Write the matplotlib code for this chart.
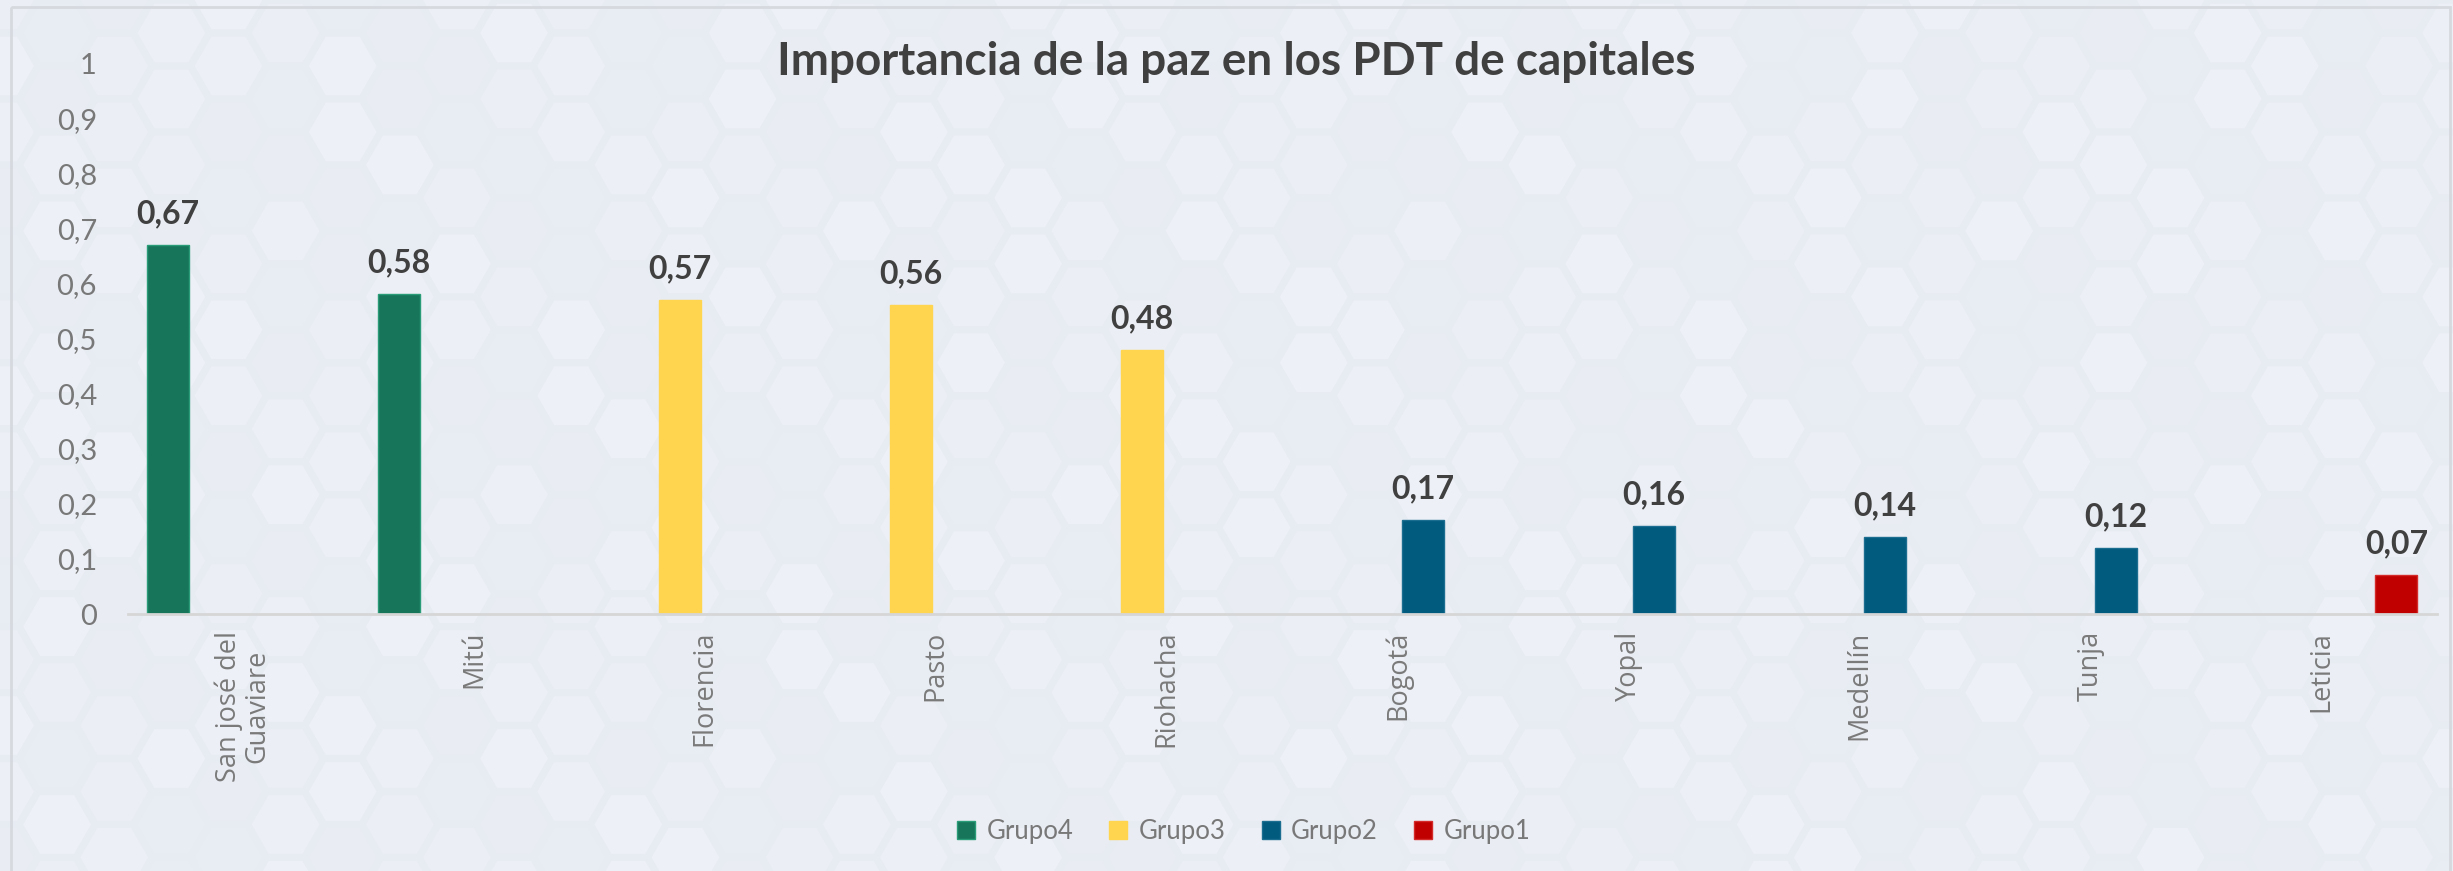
import numpy as np
import matplotlib
matplotlib.use("Agg")
import matplotlib.pyplot as plt
from matplotlib.patches import RegularPolygon, Rectangle

cities = ["San josé del\nGuaviare", "Mitú", "Florencia", "Pasto", "Riohacha",
          "Bogotá", "Yopal", "Medellín", "Tunja", "Leticia"]
nan = np.nan
grupo4 = [0.67, 0.58, nan, nan, nan, nan, nan, nan, nan, nan]
grupo3 = [nan, nan, 0.57, 0.56, 0.48, nan, nan, nan, nan, nan]
grupo2 = [nan, nan, nan, nan, nan, 0.17, 0.16, 0.14, 0.12, nan]
grupo1 = [nan, nan, nan, nan, nan, nan, nan, nan, nan, 0.07]
series_names = ["Grupo4", "Grupo3", "Grupo2", "Grupo1"]
colors = ["#17765a", "#ffd54f", "#005b7f", "#c00000"]
edges = ["#2a9c78", "#ffd54f", "#1b6e8f", "#d42a2a"]
yticks = [0, 0.1, 0.2, 0.3, 0.4, 0.5, 0.6, 0.7, 0.8, 0.9, 1]

FONT = ["Lato", "DejaVu Sans"]
CAT_FONT = ["Open Sans", "DejaVu Sans"]

W, H = 2453, 871
fig = plt.figure(figsize=(W / 100, H / 100), dpi=100)
fig.patch.set_facecolor("#e7ebf2")

# decorative hexagon background (subtle)
bg = fig.add_axes([0, 0, 1, 1])
bg.set_xlim(0, W)
bg.set_ylim(H, 0)
bg.axis("off")
r = 34
dx = 1.5 * r * 1.12
dy = np.sqrt(3) * r * 1.12
shades = ["#ebeef4", "#e9edf3", "#edf0f6", "#e8ecf3", "#eceff5"]
for i in range(int(W / dx) + 2):
    for j in range(int(H / dy) + 2):
        cx = i * dx
        cy = j * dy + (dy / 2 if i % 2 else 0)
        shade = shades[(i * 3 + j * 7 + (i * j) % 4) % 5]
        bg.add_patch(RegularPolygon((cx, cy), 6, radius=r, orientation=np.pi / 6,
                                    facecolor=shade, edgecolor="none"))
bg.add_patch(Rectangle((11, 7), W - 14, H - 6, fill=False, edgecolor="#d6d9de", lw=2))

ax = fig.add_axes([127.5 / W, 257 / H, (2437 - 127.5) / W, (614 - 63) / H])
ax.patch.set_alpha(0)

x = np.arange(len(cities))
step = 0.216
width = 0.182
for k, (name, vals) in enumerate(zip(series_names, [grupo4, grupo3, grupo2, grupo1])):
    pos = x + (k - 1.5) * step
    ax.bar(pos, vals, width, color=colors[k], edgecolor=edges[k], linewidth=1, label=name)
    for p, v in zip(pos, vals):
        if not np.isnan(v):
            ax.annotate(f"{v:.2f}".replace(".", ","), (p, v), xytext=(0, 12),
                        textcoords="offset points", ha="center", va="bottom",
                        fontsize=23, fontweight="bold", color="#404040", family=FONT)

ax.set_xlim(-0.5, len(cities) - 0.5)
ax.set_ylim(0, 1)
ax.set_yticks(yticks)
ax.set_yticklabels([f"{t:g}".replace(".", ",") for t in yticks],
                   family=FONT, fontsize=21, color="#787878")
ax.set_xticks(x)
ax.set_xticklabels(cities, rotation=90, va="top", ha="center", fontsize=19.5,
                   color="#7a7a7a", linespacing=1.05, family=CAT_FONT)
ax.tick_params(axis="y", length=0, pad=22)
ax.tick_params(axis="x", length=0, pad=12)
for s in ["top", "right", "left"]:
    ax.spines[s].set_visible(False)
ax.spines["bottom"].set_color("#d6d6d6")
ax.spines["bottom"].set_linewidth(2)

fig.text(0.504, 0.929, "Importancia de la paz en los PDT de capitales", ha="center", va="center",
         fontsize=33, fontweight="bold", color="#404040", family=FONT)

fig.legend(loc="center", bbox_to_anchor=(0.507, 0.045), ncol=4, frameon=False,
           handlelength=0.7, handleheight=0.7, handletextpad=0.45, columnspacing=1.4,
           prop={"family": FONT, "size": 18.5}, labelcolor="#787878")

fig.savefig("out.png", dpi=100, facecolor=fig.get_facecolor())
